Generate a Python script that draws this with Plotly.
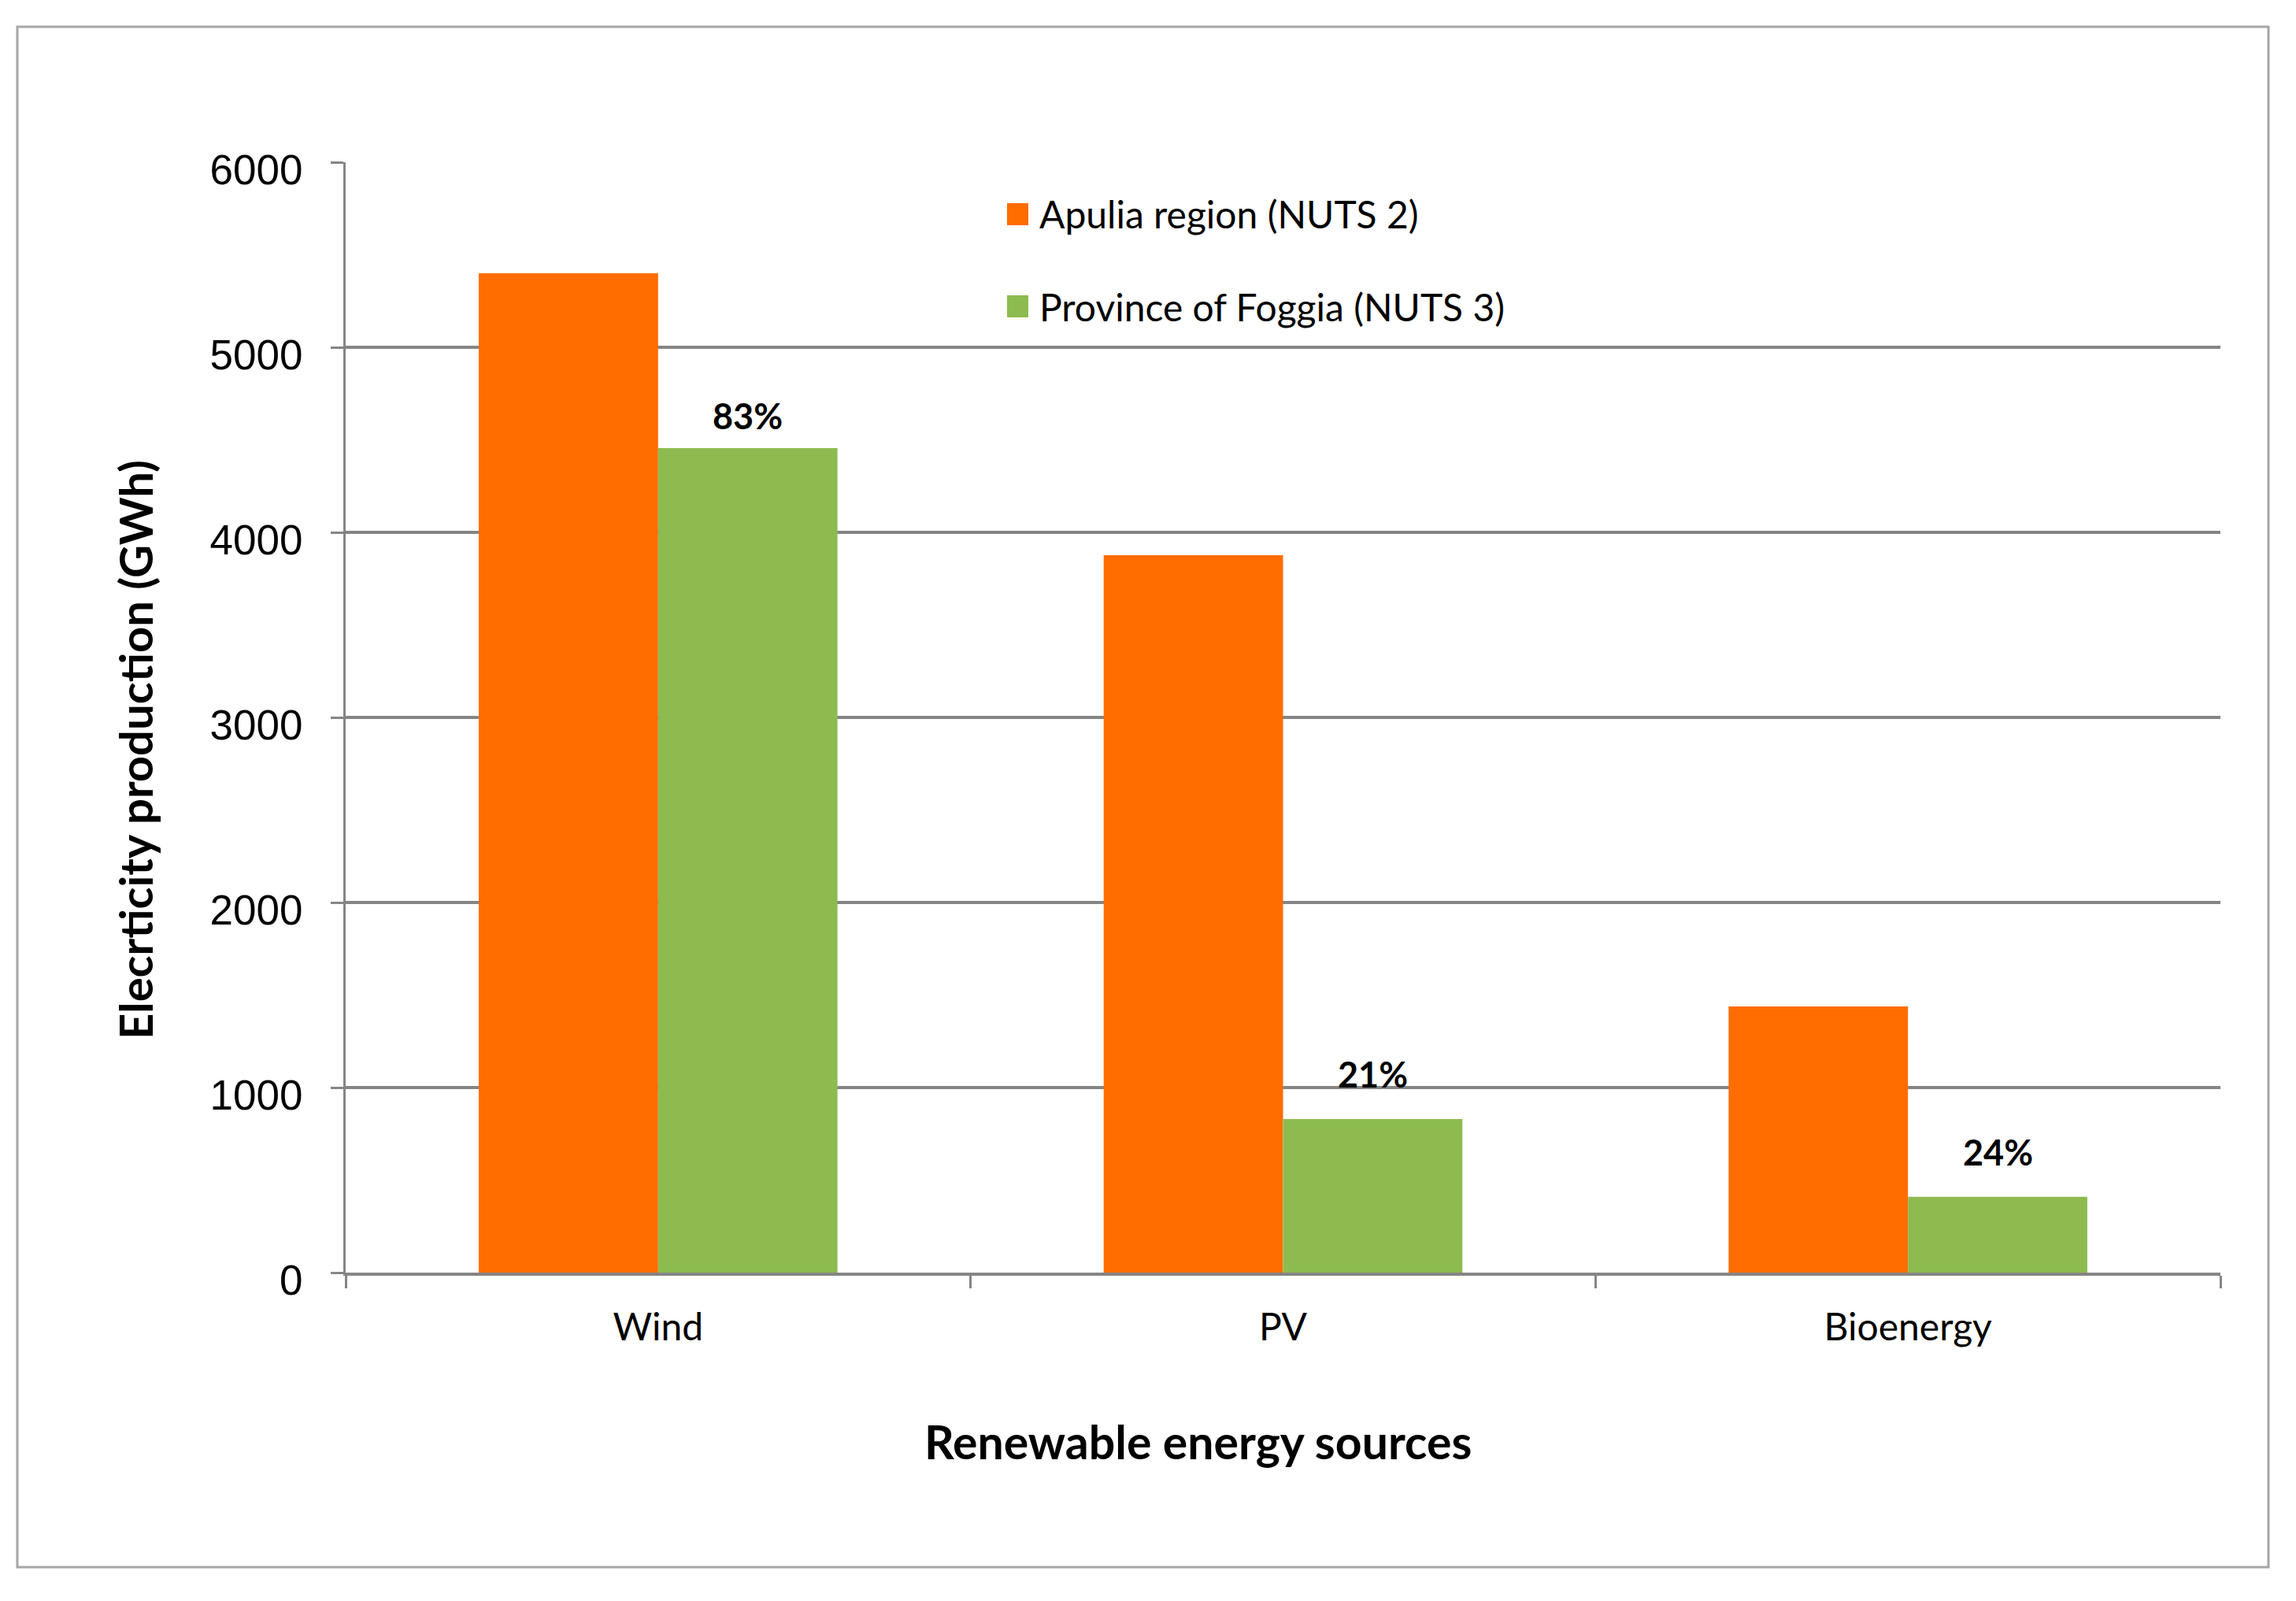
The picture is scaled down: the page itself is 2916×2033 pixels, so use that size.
import plotly.graph_objects as go

# ---- data ----
categories = ["Wind", "PV", "Bioenergy"]
series_names = ["Apulia region (NUTS 2)", "Province of Foggia (NUTS 3)"]
apulia_gwh = [5400, 3877, 1438]
foggia_gwh = [4455, 830, 410]
foggia_share_labels = ["83%", "21%", "24%"]
y_tick_values = [0, 1000, 2000, 3000, 4000, 5000, 6000]

colors = ["#FF6D00", "#8DBB50"]
label_lift_px = [12, 28, 28]   # label offsets above the bars (style)

# ---- geometry (screen pixels; page body has an 8px margin) ----
OFF = 8
FW, FH = 2916 - 2 * OFF, 2033 - 2 * OFF
L, T = 439, 206            # plot-area left/top on screen
PW, PH = 2820 - 439, 1616 - 206
ML, MT = L - OFF, T - OFF
MR, MB = FW - ML - PW, FH - MT - PH


def px(x):
    return (x - L) / PW


def py(y):
    return 1 - (y - T) / PH


fig = go.Figure()
fig.add_trace(go.Bar(
    x=categories, y=apulia_gwh, name=series_names[0],
    marker=dict(color=colors[0], line=dict(width=0)), showlegend=False,
))
fig.add_trace(go.Bar(
    x=categories, y=foggia_gwh, name=series_names[1],
    marker=dict(color=colors[1], line=dict(width=0)), showlegend=False,
))

grey = "#858585"
fig.update_layout(
    width=FW, height=FH,
    margin=dict(l=ML, r=MR, t=MT, b=MB),
    paper_bgcolor="white", plot_bgcolor="white",
    barmode="group", bargap=0.426, bargroupgap=0.0,
    showlegend=False,
    xaxis=dict(
        showline=True, linecolor=grey, linewidth=4,
        ticks="outside", tickson="boundaries", ticklen=16, tickwidth=3, tickcolor=grey,
        tickfont=dict(family="Lato", size=48, color="#000000"),
        ticklabelstandoff=24,
        showgrid=False,
    ),
    yaxis=dict(
        range=[0, 6000], tickvals=y_tick_values,
        showline=True, linecolor=grey, linewidth=3,
        ticks="outside", ticklen=16, tickwidth=3, tickcolor=grey,
        showgrid=True, gridcolor=grey, gridwidth=4,
        zeroline=False,
        tickfont=dict(family="Liberation Sans", size=53, color="#000000"),
        ticklabelstandoff=25,
        ticklabelshift=9,
    ),
)

# share labels above the Foggia bars
bar_half_px = (PW / len(categories)) * (1 - 0.426) / 4
for cat, val, lab, lift in zip(categories, foggia_gwh, foggia_share_labels, label_lift_px):
    fig.add_annotation(x=cat, y=val, xref="x", yref="y", text="<b>" + lab + "</b>",
                       showarrow=False, xanchor="center", yanchor="bottom",
                       xshift=bar_half_px, yshift=lift,
                       font=dict(family="Lato", size=45, color="#000000"))

# outer frame
fig.add_shape(type="rect", xref="paper", yref="paper",
              x0=px(22), x1=px(2881), y0=py(1990), y1=py(34),
              line=dict(color="#a6a6a6", width=3), layer="below")

# axis titles
fig.add_annotation(xref="paper", yref="paper", x=px(171), y=py(952),
                   text="<b>Elecrticity production (GWh)</b>", textangle=-90,
                   showarrow=False, xanchor="center", yanchor="middle",
                   font=dict(family="Lato", size=58, color="#000000"))
fig.add_annotation(xref="paper", yref="paper", x=px(1521), y=py(1830),
                   text="<b>Renewable energy sources</b>",
                   showarrow=False, xanchor="center", yanchor="middle",
                   font=dict(family="Lato", size=59, color="#000000"))

# legend (manual, to match large swatches)
legend_rows = [272, 389]
for name, col, yc in zip(series_names, colors, legend_rows):
    fig.add_shape(type="rect", xref="paper", yref="paper",
                  x0=px(1279), x1=px(1306), y0=py(yc + 14), y1=py(yc - 14),
                  fillcolor=col, line=dict(width=0))
    fig.add_annotation(xref="paper", yref="paper", x=px(1318), y=py(yc),
                       text=name, showarrow=False, xanchor="left", yanchor="middle",
                       font=dict(family="Lato", size=48, color="#000000"))

fig.write_html("out.html")
